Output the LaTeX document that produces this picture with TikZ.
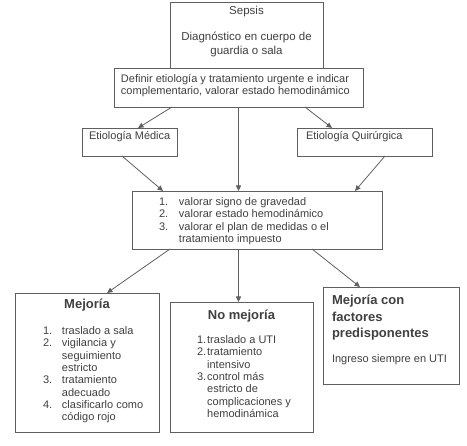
\documentclass[tikz,border=0pt]{standalone}
\usepackage{fontspec}
\setmainfont{Liberation Sans}
\usetikzlibrary{arrows.meta, positioning}
\definecolor{sepsisink}{HTML}{404040}
\definecolor{sepsisline}{HTML}{5F5F5F}
\newcommand{\bodysize}{\fontsize{11}{12.3}\selectfont}
\newcommand{\headsize}{\fontsize{13}{16.5}\selectfont\bfseries}

\begin{document}
\begin{tikzpicture}[
        box/.style={draw=sepsisline, line width=0.8pt, fill=white, inner sep=0pt, outer sep=0pt},
        txt/.style={inner sep=0pt, outer sep=0pt, align=left, font=\bodysize, text=sepsisink},
        head/.style={inner sep=0pt, outer sep=0pt, align=center, font=\headsize, text=sepsisink},
        line/.style={-{Triangle[length=5.5pt, width=5pt]}, line width=0.8pt, sepsisline}
    ]
        \useasboundingbox (0,0) rectangle (467pt,-446pt);

        % frames
        \node (sepsis) [box, minimum width=153pt, minimum height=66pt, anchor=north west] at (170pt,-2pt) {};
        \node (define) [box, minimum width=249pt, minimum height=39pt, below=0pt of sepsis, xshift=-8pt] {};
        \node (medica) [box, minimum width=95pt, minimum height=28pt, below right=21pt and -32pt of define.south west] {};
        \node (quir) [box, minimum width=135pt, minimum height=28pt, below left=21pt and -69pt of define.south east] {};
        \node (valorar) [box, minimum width=250pt, minimum height=58pt, below=84pt of define, xshift=18.5pt] {};
        \node (mejoria) [box, minimum width=144pt, minimum height=139pt, below right=44pt and -117pt of valorar.south west] {};
        \node (nomejoria) [box, minimum width=143pt, minimum height=130pt, below right=53pt and 38pt of valorar.south west] {};
        \node (factores) [box, minimum width=136pt, minimum height=97pt, below right=38pt and -59pt of valorar.south east] {};

        % texts
        \node (sepsistxt) [txt, align=center, font=\fontsize{11.5}{13.5}\selectfont, below=4pt of sepsis.north]
            {Sepsis\\[13pt]Diagnóstico en cuerpo de\\guardia o sala};
        \node (definetxt) [txt, below right=6pt and 7pt of define.north west]
            {Definir etiología y tratamiento urgente e indicar\\complementario, valorar estado hemodinámico};
        \node (medicatxt) [txt, below right=3.5pt and 7pt of medica.north west] {Etiología Médica};
        \node (quirtxt) [txt, below right=3.5pt and 9pt of quir.north west] {Etiología Quirúrgica};
        \node (valorartxt) [txt, below right=6pt and 27pt of valorar.north west] {%
            \begin{tabular}{@{}l@{\hspace{10.8pt}}l@{}}
                1. & valorar signo de gravedad\\
                2. & valorar estado hemodinámico\\
                3. & valorar el plan de medidas o el\\
                   & tratamiento impuesto
            \end{tabular}};

        \node (mejoriahead) [head, below=6pt of mejoria.north] {Mejoría};
        \node (mejoriatxt) [txt, below right=33pt and 28pt of mejoria.north west] {%
            \begin{tabular}{@{}l@{\hspace{9.8pt}}l@{}}
                1. & traslado a sala\\
                2. & vigilancia y\\
                   & seguimiento\\
                   & estricto\\
                3. & tratamiento\\
                   & adecuado\\
                4. & clasificarlo como\\
                   & código rojo
            \end{tabular}};

        \node (nomejoriahead) [head, below=8pt of nomejoria.north] {No mejoría};
        \node (nomejoriatxt) [txt, below right=33pt and 27pt of nomejoria.north west] {%
            \begin{tabular}{@{}l@{\hspace{1pt}}l@{}}
                1. & traslado a UTI\\
                2. & tratamiento\\
                   & intensivo\\
                3. & control más\\
                   & estricto de\\
                   & complicaciones y\\
                   & hemodinámica
            \end{tabular}};

        \node (factoreshead) [head, align=left, below right=8pt and 9pt of factores.north west]
            {Mejoría con\\factores\\predisponentes};
        \node (factorestxt) [txt, below right=68pt and 9pt of factores.north west] {Ingreso siempre en UTI};

        % connectors
        \draw [line] ([xshift=58pt]define.south west) -- ([xshift=8.5pt]medica.north);
        \draw [line] ([xshift=-58pt]define.south east) -- ([xshift=-32.5pt]quir.north);
        \draw [line] (define.south) -- (define.south |- valorar.north);
        \draw [line] ([xshift=-7.5pt]medica.south) -- ([xshift=31pt]valorar.north west);
        \draw [line] ([xshift=20.5pt]quir.south) -- ([xshift=-27pt]valorar.north east);
        \draw [line] ([xshift=38pt]valorar.south west) -- ([xshift=20pt]mejoria.north);
        \draw [line] (valorar.south -| define.south) -- (nomejoria.north -| define.south);
        \draw [line] ([xshift=-70pt]valorar.south east) -- ([xshift=37pt]factores.north west);
    \end{tikzpicture}
\end{document}
